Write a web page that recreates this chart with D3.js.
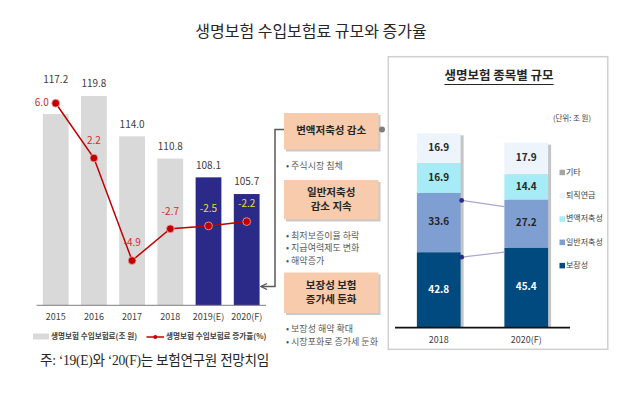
<!DOCTYPE html>
<html>
<head>
<meta charset="utf-8">
<script src="https://cdn.jsdelivr.net/npm/d3@7"></script>
<style>
  body { margin: 0; background: #fff; }
  svg { display: block; font-family: "Noto Sans CJK KR", "Noto Sans", sans-serif; }
</style>
</head>
<body>
<svg id="chart" width="640" height="397"></svg>
<script>
// left chart data
const years = ['2015', '2016', '2017', '2018', '2019(E)', '2020(F)'];
const premiums = [117.2, 119.8, 114.0, 110.8, 108.1, 105.7];
const growth = [6.0, 2.2, -4.9, -2.7, -2.5, -2.2];
const forecast = [false, false, false, false, true, true];

// middle notes
const causes = [
  { box: ['변액저축성 감소'], notes: ['주식시장 침체'] },
  { box: ['일반저축성', '감소 지속'], notes: ['최저보증이율 하락', '지급여력제도 변화', '해약증가'] },
  { box: ['보장성 보험', '증가세 둔화'], notes: ['보장성 해약 확대', '시장포화로 증가세 둔화'] }
];

// right chart data
const typeYears = ['2018', '2020(F)'];
const types = ['보장성', '일반저축성', '변액저축성', '퇴직연금', '기타'];
const typeValues = {
  '보장성':   [42.8, 45.4],
  '일반저축성': [33.6, 27.2],
  '변액저축성': [16.9, 14.4],
  '퇴직연금':  [16.9, 17.9],
  '기타':     [0, 0]
};
const typeColors = ['#004a7f', '#7f9fd2', '#a6ebf5', '#eef4fc', '#a6a6a6'];

const svg = d3.select('#chart');
const dark = '#262626', mid = '#404040', red = '#c00000';

// main title
svg.append('text').attr('x', 311).attr('y', 33)
  .attr('text-anchor', 'middle').attr('dominant-baseline', 'middle')
  .attr('font-size', 16).attr('fill', dark)
  .text('생명보험 수입보험료 규모와 증가율');

// ---- left: bars + growth line
const x = d3.scaleBand().domain(years).range([36.6, 265.8])
  .paddingInner(0.325).paddingOuter(0.1625);
const y = d3.scaleLinear().domain([89.7, 119.8]).range([305.3, 96]);
const y2 = d3.scaleLinear().domain([-8, 6.5]).range([305.3, 96]);

const left = svg.append('g');
left.selectAll('rect.bar').data(years).join('rect')
  .attr('class', 'bar')
  .attr('x', d => x(d)).attr('width', x.bandwidth())
  .attr('y', (d, i) => y(premiums[i]))
  .attr('height', (d, i) => y.range()[0] - y(premiums[i]))
  .attr('fill', (d, i) => forecast[i] ? '#2b2a88' : '#d9d9d9');

left.append('line').attr('x1', 36.6).attr('x2', 266)
  .attr('y1', 305.3).attr('y2', 305.3)
  .attr('stroke', '#7f7f7f').attr('stroke-width', 1);

const xAxis = left.append('g').attr('transform', 'translate(0,305.3)')
  .call(d3.axisBottom(x).tickSize(0).tickPadding(8));
xAxis.select('.domain').remove();
xAxis.selectAll('text').attr('font-size', 9).attr('fill', mid)
  .attr('font-family', '"Noto Sans CJK KR", sans-serif');

const cx = d => x(d) + x.bandwidth() / 2;

// value labels above bars
left.selectAll('text.val').data(years).join('text')
  .attr('class', 'val')
  .attr('x', d => cx(d))
  .attr('y', (d, i) => Math.min(y(premiums[i]), y2(growth[i]) - 11) - 11.5)
  .attr('text-anchor', 'middle').attr('dominant-baseline', 'middle')
  .attr('font-size', 10).attr('fill', mid)
  .text((d, i) => premiums[i].toFixed(1));

// growth line
const line = d3.line().x(d => cx(d)).y((d, i) => y2(growth[i]));
left.append('path').datum(years).attr('d', line)
  .attr('fill', 'none').attr('stroke', red).attr('stroke-width', 1.5);
left.selectAll('circle.dot').data(years).join('circle')
  .attr('class', 'dot')
  .attr('cx', d => cx(d)).attr('cy', (d, i) => y2(growth[i]))
  .attr('r', 3.9).attr('fill', red)
  .attr('stroke', '#f3a6a6').attr('stroke-width', 0.8);

left.selectAll('text.gr').data(years).join('text')
  .attr('class', 'gr')
  .each(function(d, i) {
    const t = d3.select(this);
    const above = y2(growth[i]) < y(premiums[i]);
    t.attr('x', above ? cx(d) - 7 : cx(d))
      .attr('y', above ? y2(growth[i]) : y2(growth[i]) - 17)
      .attr('text-anchor', above ? 'end' : 'middle');
  })
  .attr('dominant-baseline', 'middle')
  .attr('font-size', 10)
  .attr('fill', (d, i) => forecast[i] ? '#e3e32c' : '#d42a2a')
  .text((d, i) => growth[i].toFixed(1));

// legend
const lg = svg.append('g').attr('font-size', 7.6).attr('font-weight', 'bold').attr('fill', mid);
lg.append('rect').attr('x', 33).attr('y', 333.5).attr('width', 16).attr('height', 6).attr('fill', '#d9d9d9');
lg.append('text').attr('x', 51).attr('y', 337).attr('dominant-baseline', 'middle')
  .text('생명보험 수입보험료(조 원)');
lg.append('line').attr('x1', 146.5).attr('x2', 164).attr('y1', 337).attr('y2', 337)
  .attr('stroke', red).attr('stroke-width', 1.5);
lg.append('circle').attr('cx', 155.3).attr('cy', 337).attr('r', 2).attr('fill', red);
lg.append('text').attr('x', 166).attr('y', 337).attr('dominant-baseline', 'middle')
  .text('생명보험 수입보험료 증가율(%)');

// footnote
svg.append('text').attr('x', 40).attr('y', 362).attr('dominant-baseline', 'middle')
  .attr('font-family', '"Liberation Serif", "Noto Sans CJK KR", serif')
  .attr('font-size', 13.6).attr('letter-spacing', -0.3).attr('fill', dark)
  .text('주: \u201819(E)와 \u201820(F)는 보험연구원 전망치임');

// ---- middle: cause boxes
const boxTops = [113, 180, 272.5];
const boxH = [36.5, 39.5, 40.5];
const mg = svg.append('g');
causes.forEach((c, k) => {
  const top = boxTops[k], h = boxH[k];
  mg.append('rect').attr('x', 286).attr('y', top + 2).attr('width', 94.5).attr('height', h)
    .attr('fill', '#c9c9c9');
  mg.append('rect').attr('x', 284).attr('y', top).attr('width', 94.5).attr('height', h)
    .attr('fill', '#f8cbad');
  c.box.forEach((s, j) => {
    mg.append('text').attr('x', 331.2)
      .attr('y', top + h / 2 + (j - (c.box.length - 1) / 2) * 14)
      .attr('text-anchor', 'middle').attr('dominant-baseline', 'middle')
      .attr('font-size', 10.5).attr('font-weight', 'bold').attr('fill', dark)
      .text(s);
  });
  c.notes.forEach((s, j) => {
    mg.append('text').attr('x', 286)
      .attr('y', top + h + 17 + j * 12.3)
      .attr('dominant-baseline', 'middle')
      .attr('font-size', 9).attr('fill', '#595959')
      .text('\u2022 ' + s);
  });
});

// bracket arrow from first box to the 2020 bar
svg.append('defs').append('marker').attr('id', 'arr')
  .attr('viewBox', '0 0 10 10').attr('refX', 9).attr('refY', 5)
  .attr('markerWidth', 5).attr('markerHeight', 5).attr('orient', 'auto')
  .append('path').attr('d', 'M1,1 L9,5 L1,9').attr('fill', 'none')
  .attr('stroke', '#595959').attr('stroke-width', 1.8);
svg.append('path').attr('d', 'M284,129.5 H275 V286.5 H261')
  .attr('fill', 'none').attr('stroke', '#595959').attr('stroke-width', 1.5)
  .attr('marker-end', 'url(#arr)');
svg.append('circle').attr('cx', 382).attr('cy', 129.5).attr('r', 3).attr('fill', '#7f7f7f');

// ---- right: stacked bars by type
svg.append('rect').attr('x', 388.3).attr('y', 56.7).attr('width', 219.5).attr('height', 292.6)
  .attr('fill', '#fff').attr('stroke', '#d0d0d0').attr('stroke-width', 1.5);

const rt = svg.append('text').attr('x', 499).attr('y', 77)
  .attr('text-anchor', 'middle').attr('dominant-baseline', 'middle')
  .attr('font-size', 12.5).attr('font-weight', 'bold').attr('fill', dark)
  .text('생명보험 종목별 규모');
const rb = rt.node().getBBox();
svg.append('line').attr('x1', rb.x).attr('x2', rb.x + rb.width)
  .attr('y1', 84.5).attr('y2', 84.5).attr('stroke', dark).attr('stroke-width', 1);

svg.append('text').attr('x', 572).attr('y', 118.5)
  .attr('text-anchor', 'middle').attr('dominant-baseline', 'middle')
  .attr('font-size', 7.5).attr('fill', mid).text('(단위: 조 원)');

const xr = d3.scaleBand().domain(typeYears).range([395, 570])
  .paddingInner(0.5).paddingOuter(0.25);
const yr = d3.scaleLinear().domain([0, 110.2]).range([327.7, 133.3]);

const stackRows = typeYears.map((yy, i) => {
  const row = { year: yy };
  types.forEach(t => { row[t] = typeValues[t][i]; });
  return row;
});
const series = d3.stack().keys(types)(stackRows);

const right = svg.append('g');
// shadow
right.selectAll('rect.sh').data(stackRows).join('rect')
  .attr('class', 'sh')
  .attr('x', d => xr(d.year) + 3).attr('width', xr.bandwidth())
  .attr('y', (d, i) => yr(series[series.length - 1][i][1]) + 2)
  .attr('height', (d, i) => yr(0) - yr(series[series.length - 1][i][1]) - 2)
  .attr('fill', '#c4c4c4');

series.forEach((s, k) => {
  right.selectAll('rect.s' + k).data(s).join('rect')
    .attr('class', 's' + k)
    .attr('x', d => xr(d.data.year)).attr('width', xr.bandwidth())
    .attr('y', d => yr(d[1])).attr('height', d => yr(d[0]) - yr(d[1]))
    .attr('fill', typeColors[k]);
  right.selectAll('text.s' + k).data(s.filter(d => d[1] - d[0] > 0)).join('text')
    .attr('class', 's' + k)
    .attr('x', d => xr(d.data.year) + xr.bandwidth() / 2)
    .attr('y', d => (yr(d[0]) + yr(d[1])) / 2)
    .attr('text-anchor', 'middle').attr('dominant-baseline', 'middle')
    .attr('font-size', 10).attr('font-weight', 'bold')
    .attr('fill', k === 0 ? '#fff' : dark)
    .text(d => (d[1] - d[0]).toFixed(1));
});

// connectors between 2018 and 2020 for 보장성 and 일반저축성 tops
[0, 1].forEach(k => {
  const a = series[k][0], b = series[k][1];
  const x1 = xr(typeYears[0]) + xr.bandwidth() + 1, x2 = xr(typeYears[1]);
  const ya = yr(a[1]) + (k === 0 ? 5 : 7.5), yb = yr(b[1]) + (k === 0 ? 4.5 : 7);
  right.append('line').attr('x1', x1).attr('x2', x2).attr('y1', ya).attr('y2', yb)
    .attr('stroke', '#a9a6d2').attr('stroke-width', 1.2);
  right.append('circle').attr('cx', x1).attr('cy', ya).attr('r', 2.4).attr('fill', '#2b2a88');
});

right.append('line').attr('x1', 395).attr('x2', 570).attr('y1', 327.7).attr('y2', 327.7)
  .attr('stroke', '#111').attr('stroke-width', 1.8);

const xrAxis = right.append('g').attr('transform', 'translate(0,327.7)')
  .call(d3.axisBottom(xr).tickSize(0).tickPadding(9));
xrAxis.select('.domain').remove();
xrAxis.selectAll('text').attr('font-size', 9).attr('fill', mid)
  .attr('font-family', '"Noto Sans CJK KR", sans-serif');

// right legend, top to bottom: 기타 ... 보장성
const legTypes = types.slice().reverse();
const legColors = typeColors.slice().reverse();
const rl = right.selectAll('g.leg').data(legTypes).join('g')
  .attr('class', 'leg')
  .attr('transform', (d, i) => `translate(559.5,${172.7 + i * 23.3})`);
rl.append('rect').attr('x', 0).attr('y', -3).attr('width', 5.5).attr('height', 5.5)
  .attr('fill', (d, i) => legColors[i]);
rl.append('text').attr('x', 6.5).attr('y', 0).attr('dominant-baseline', 'middle')
  .attr('font-size', 8).attr('fill', mid).text(d => d);
</script>
</body>
</html>
